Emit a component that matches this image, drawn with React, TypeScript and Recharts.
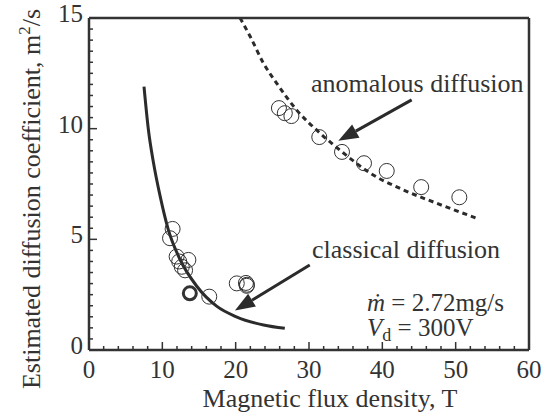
import React from 'react';
import { ComposedChart, Line, Scatter, XAxis, YAxis, ReferenceLine } from 'recharts';

// tick positions (labels on majors only)
const xTicks = [0, 2, 4, 6, 8, 10, 12, 14, 16, 18, 20, 22, 24, 26, 28, 30, 32, 34, 36, 38, 40, 42, 44, 46, 48, 50, 52, 54, 56, 58, 60];
const yTicks = [0, 0.5, 1, 1.5, 2, 2.5, 3, 3.5, 4, 4.5, 5, 5.5, 6, 6.5, 7, 7.5, 8, 8.5, 9, 9.5, 10, 10.5, 11, 11.5, 12, 12.5, 13, 13.5, 14, 14.5, 15];

// fitted curves
const classicalCurve = [
    { x: 7.5, y: 11.9 }, { x: 8.1, y: 9.95 }, { x: 8.8, y: 8.45 }, { x: 9.7, y: 6.95 },
    { x: 10.8, y: 5.45 }, { x: 12.4, y: 4.1 }, { x: 14.7, y: 2.88 }, { x: 17.4, y: 1.98 },
    { x: 20.1, y: 1.5 }, { x: 23.8, y: 1.13 }, { x: 26.7, y: 0.98 },
];
const anomalousCurve = [
    { x: 20.6, y: 15 }, { x: 22.0, y: 14.15 }, { x: 23.8, y: 12.95 }, { x: 25.6, y: 12.05 },
    { x: 28.3, y: 10.85 }, { x: 31.5, y: 9.8 }, { x: 34.7, y: 8.9 }, { x: 38.3, y: 8.0 },
    { x: 42.9, y: 7.23 }, { x: 47.4, y: 6.63 }, { x: 52.9, y: 5.95 },
];

// measured points
const anomalousPoints = [
    { x: 25.9, y: 10.93 }, { x: 26.7, y: 10.7 }, { x: 27.6, y: 10.57 }, { x: 31.4, y: 9.62 },
    { x: 34.5, y: 8.95 }, { x: 37.5, y: 8.44 }, { x: 40.6, y: 8.09 }, { x: 45.3, y: 7.36 },
    { x: 50.5, y: 6.9 },
];
const classicalPoints = [
    { x: 11.4, y: 5.47 }, { x: 11.05, y: 5.05 }, { x: 11.95, y: 4.22 }, { x: 12.3, y: 4.0 },
    { x: 13.55, y: 4.07 }, { x: 12.65, y: 3.76 }, { x: 13.1, y: 3.6 }, { x: 16.4, y: 2.41 },
    { x: 20.15, y: 3.01 }, { x: 21.4, y: 3.03 }, { x: 21.55, y: 2.95 }, { x: 21.5, y: 2.9 },
];
const boldPoints = [{ x: 13.75, y: 2.56 }];

const INK = '#333';
const FONT = '"Liberation Serif", "Times New Roman", serif';

function tickFor(side: string) {
    return (props: any) => {
        const { x, y, payload } = props;
        const v = payload.value;
        const major = side === 'bottom' || side === 'top' ? v % 10 === 0 : v % 5 === 0;
        const len = major ? 8 : 4;
        let line;
        if (side === 'bottom') line = <line x1={x} x2={x} y1={y} y2={y - len} stroke={INK} strokeWidth={1.5} />;
        else if (side === 'top') line = <line x1={x} x2={x} y1={y} y2={y + len} stroke={INK} strokeWidth={1.5} />;
        else if (side === 'left') line = <line x1={x} x2={x + len} y1={y} y2={y} stroke={INK} strokeWidth={1.5} />;
        else line = <line x1={x} x2={x - len} y1={y} y2={y} stroke={INK} strokeWidth={1.5} />;
        let label = null;
        if (major && side === 'bottom')
            label = <text x={x} y={y + 28} textAnchor="middle" fontSize={25} fontFamily={FONT} fill={INK}>{v}</text>;
        if (major && side === 'left')
            label = <text x={x - 6} y={y + 4} textAnchor="end" fontSize={25} fontFamily={FONT} fill={INK}>{v}</text>;
        return <g>{line}{label}</g>;
    };
}

const circle = (r: number, w: number) => (p: any) =>
    <circle cx={p.cx} cy={p.cy} r={r} fill="none" stroke={INK} strokeWidth={w} />;

const arrow = (p: any) => {
    const { x1, y1, x2, y2 } = p;
    const ang = Math.atan2(y2 - y1, x2 - x1);
    const L = 20, W = 7.5;
    const bx = x2 - L * Math.cos(ang), by = y2 - L * Math.sin(ang);
    const nx = -Math.sin(ang) * W, ny = Math.cos(ang) * W;
    return (
        <g>
            <line x1={x1} y1={y1} x2={bx} y2={by} stroke="#2b2b2b" strokeWidth={3} />
            <polygon points={`${x2},${y2} ${bx + nx},${by + ny} ${bx - nx},${by - ny}`} fill="#2b2b2b" />
        </g>
    );
};

export default function App() {
    const axisLine = { stroke: INK, strokeWidth: 2.5 };
    return (
        <div style={{ position: 'absolute', left: 0, top: 0, background: '#fff' }}>
            <ComposedChart width={550} height={419} margin={{ top: 0, right: 0, bottom: 0, left: 0 }}>
                <XAxis xAxisId="b" type="number" dataKey="x" domain={[0, 60]} ticks={xTicks} interval={0}
                    height={69} tickSize={0} tickMargin={0} tickLine={false} axisLine={axisLine} tick={tickFor('bottom')} />
                <XAxis xAxisId="t" orientation="top" type="number" domain={[0, 60]} ticks={xTicks} interval={0}
                    height={18} tickSize={0} tickMargin={0} tickLine={false} axisLine={axisLine} tick={tickFor('top')} />
                <YAxis yAxisId="l" type="number" domain={[0, 15]} ticks={yTicks} interval={0}
                    width={89} tickSize={0} tickMargin={0} tickLine={false} axisLine={axisLine} tick={tickFor('left')} />
                <YAxis yAxisId="r" orientation="right" type="number" domain={[0, 15]} ticks={yTicks} interval={0}
                    width={21} tickSize={0} tickMargin={0} tickLine={false} axisLine={axisLine} tick={tickFor('right')} />

                <Line xAxisId="b" yAxisId="l" data={classicalCurve} dataKey="y" type="monotone" dot={false}
                    stroke="#2b2b2b" strokeWidth={3} isAnimationActive={false} />
                <Line xAxisId="b" yAxisId="l" data={anomalousCurve} dataKey="y" type="monotone" dot={false}
                    stroke="#2b2b2b" strokeWidth={3} strokeDasharray="5 4" isAnimationActive={false} />
                <Scatter xAxisId="b" yAxisId="l" data={anomalousPoints} dataKey="y" shape={circle(7.5, 1)} isAnimationActive={false} />
                <Scatter xAxisId="b" yAxisId="l" data={classicalPoints} dataKey="y" shape={circle(7.5, 1)} isAnimationActive={false} />
                <Scatter xAxisId="b" yAxisId="l" data={boldPoints} dataKey="y" shape={circle(6.5, 3)} isAnimationActive={false} />

                <ReferenceLine xAxisId="b" yAxisId="l" segment={[{ x: 44.0, y: 11.3 }, { x: 34.0, y: 9.45 }]} shape={arrow} />
                <ReferenceLine xAxisId="b" yAxisId="l" segment={[{ x: 30.1, y: 3.84 }, { x: 19.9, y: 1.78 }]} shape={arrow} />

                <text x={311} y={92} fontSize={26} fontFamily={FONT} fill={INK}>anomalous diffusion</text>
                <text x={312} y={258} fontSize={26} fontFamily={FONT} fill={INK}>classical diffusion</text>
                <text x={367} y={311} fontSize={25} fontFamily={FONT} fill={INK}>
                    <tspan fontStyle="italic">ṁ</tspan> = 2.72mg/s
                </text>
                <text x={367} y={336} fontSize={25} fontFamily={FONT} fill={INK}>
                    <tspan fontStyle="italic">V</tspan><tspan fontSize={18} dy={5}>d</tspan><tspan dy={-5}> = 300V</tspan>
                </text>
                <text x={330} y={407} textAnchor="middle" fontSize={26} fontFamily={FONT} fill={INK}>Magnetic flux density, T</text>
                <text transform="translate(40,199) rotate(-90)" textAnchor="middle" fontSize={26} fontFamily={FONT} fill={INK}>
                    Estimated diffusion coefficient, m<tspan fontSize={17} dy={-10}>2</tspan><tspan dy={10}>/s</tspan>
                </text>
            </ComposedChart>
        </div>
    );
}
